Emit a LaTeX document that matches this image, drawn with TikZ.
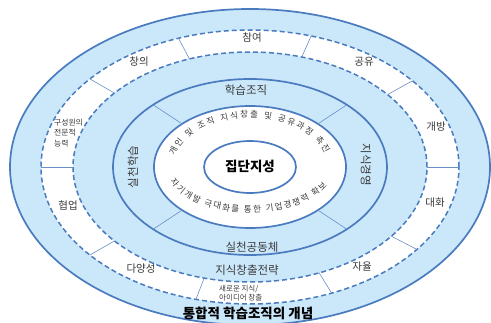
\documentclass[tikz,border=0pt]{standalone}
\usepackage{fontspec}
\setmainfont{Noto Sans CJK KR}
\usetikzlibrary{decorations.text}
\definecolor{lblue}{HTML}{CBE8FB}
\definecolor{eblue}{HTML}{4A7BBE}
\definecolor{sblue}{HTML}{6A90C6}
\definecolor{tgray}{HTML}{3A3A3A}
\begin{document}
\begin{tikzpicture}[x=1pt,y=1pt,
  ring/.style={draw=eblue, line width=1.7pt},
  dashring/.style={draw=eblue, line width=1.5pt, dash pattern=on 5pt off 3pt},
  sep/.style={draw=sblue, line width=0.6pt},
  band/.style={font=\fontsize{10.5}{12}\selectfont, text=tgray, inner sep=0pt},
  core/.style={font=\fontsize{11.5}{13}\selectfont, text=tgray, inner sep=0pt},
  small/.style={font=\fontsize{7.8}{10.2}\selectfont, text=tgray, inner sep=0pt, align=left},
  title/.style={font=\fontsize{13.5}{15}\selectfont\bfseries, text=black, inner sep=0pt}]
\useasboundingbox (0,0) rectangle (491,322);
\coordinate (C) at (250,155);
% rings
\path[ring, fill=lblue] (C) ellipse [x radius=240pt, y radius=158pt];
\path[dashring, fill=white] (C) ellipse [x radius=209pt, y radius=137pt];
\path[dashring, fill=lblue] (C) ellipse [x radius=177pt, y radius=115pt];
\path[ring, fill=lblue] (C) ellipse [x radius=137pt, y radius=88pt];
\path[ring, fill=white] (C) ellipse [x radius=96pt, y radius=61pt];
\path[ring, fill=white] (C) ellipse [x radius=46pt, y radius=26pt];
% separators
\foreach \t in {110,73,39,0,-37,-67,-105,-140,180,140}
  \draw[sep] ([shift={(\t:209pt and 137pt)}]C) -- ([shift={(\t:177pt and 115pt)}]C);
\foreach \t in {45,135,225,315}
  \draw[sep] ([shift={(\t:137pt and 88pt)}]C) -- ([shift={(\t:96pt and 61pt)}]C);
% curved texts
\path[decorate, decoration={text along path, text align={fit to path}, raise=-2.5pt,
  text={|\fontsize{8.5}{10}\selectfont\color{tgray}|개인 및 조직 지식창출 및 공유과정 촉진}}]
  ([shift={(166:80pt and 52pt)}]C) arc[start angle=166, end angle=16, x radius=80pt, y radius=52pt];
\path[decorate, decoration={text along path, text align={fit to path}, raise=-2.5pt,
  text={|\fontsize{8.5}{10}\selectfont\color{tgray}|자기개발 극대화를 통한 기업경쟁력 확보}}]
  ([shift={(198:82pt and 43pt)}]C) arc[start angle=198, end angle=337, x radius=82pt, y radius=43pt];
% band labels
\node[band] (chamyeo) at (252,284) {참여};
\node[band] (gongyu) at (364,260) {공유};
\node[band] (gaebang) at (436,195) {개방};
\node[band] (daehwa) at (435,119) {대화};
\node[band] (jayul) at (362,55) {자율};
\node[band] (dayang) at (141,53) {다양성};
\node[band] (hyeobeop) at (68,117) {협업};
\node[band] (changui) at (139,260) {창의};
\node[small, anchor=west] (guseong) at (54,189) {구성원의\\전문적\\능력};
\node[small, anchor=west, font=\fontsize{7.5}{9.5}\selectfont] (saeroun) at (219,29) {새로운 지식/\\아이디어 창출};
% ring labels
\node[core] (hakseup) at (246,232) {학습조직};
\node[core, rotate=90] (silcheonhak) at (133,155) {실천학습};
\node[core, rotate=-90] (jisikgy) at (366,157) {지식경영};
\node[core] (silcheongong) at (252,75) {실천공동체};
\node[core] (jisikchang) at (247,52) {지식창출전략};
% centre and caption
\node[title] (jipdan) at (250,156) {집단지성};
\node[title] (caption) at (248,9) {통합적 학습조직의 개념};
\end{tikzpicture}
\end{document}
